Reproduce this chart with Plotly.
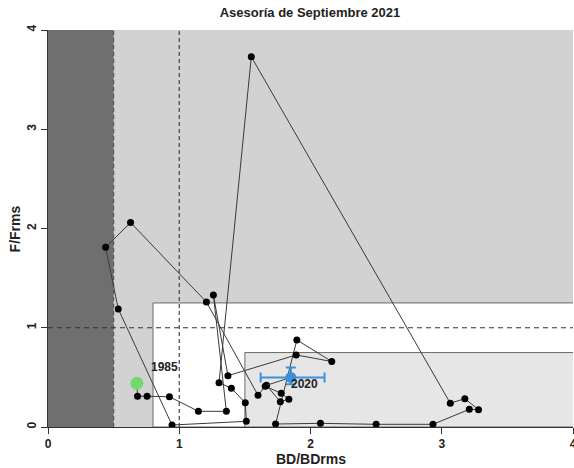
import plotly.graph_objects as go

# ---- data ----
years = list(range(1985, 2021))
bd = [0.677, 0.682, 0.755, 0.925, 1.146, 1.359, 1.260, 1.371, 1.891, 2.162,
      1.896, 1.734, 2.076, 2.500, 2.933, 3.210, 3.280, 3.176, 3.065, 1.549,
      1.303, 1.397, 1.503, 1.511, 0.945, 0.535, 0.439, 0.629, 1.207, 1.600,
      1.655, 1.777, 1.835, 1.770, 1.665, 1.850]
ff = [0.44, 0.31, 0.31, 0.305, 0.158, 0.158, 1.33, 0.517, 0.726, 0.66,
      0.877, 0.03, 0.037, 0.027, 0.027, 0.178, 0.175, 0.285, 0.24, 3.73,
      0.447, 0.39, 0.245, 0.057, 0.02, 1.19, 1.81, 2.06, 1.26, 0.32,
      0.41, 0.34, 0.28, 0.255, 0.42, 0.50]
last_bd_ci = [1.62, 2.107]
last_f_ci = [0.43, 0.60]
ticks = [0, 1, 2, 3, 4]

# reference points / zones
b_lim, b_pa, b_up = 0.5, 0.8, 1.5
f_ref, f_up, f_low = 1.0, 1.25, 0.75
xmax, ymax = 4, 4

FONT = "Liberation Sans"
fig = go.Figure()

shapes = [
    dict(type="rect", x0=0, x1=xmax, y0=0, y1=ymax, fillcolor="#d2d2d2", line_width=0, layer="below"),
    dict(type="rect", x0=0, x1=b_lim, y0=0, y1=ymax, fillcolor="#6f6f6f", line_width=0, layer="below"),
    dict(type="rect", x0=b_pa, x1=xmax + 0.05, y0=0, y1=f_up, fillcolor="white",
         line=dict(color="#6a6a6a", width=1), layer="below"),
    dict(type="rect", x0=b_up, x1=xmax + 0.05, y0=0, y1=f_low, fillcolor="#e6e6e6",
         line=dict(color="#6a6a6a", width=1), layer="below"),
    dict(type="line", x0=b_lim, x1=b_lim, y0=0, y1=ymax, line=dict(color="#555555", width=1.2, dash="4px,3px"), layer="below"),
    dict(type="line", x0=1, x1=1, y0=0, y1=ymax, line=dict(color="#444444", width=1.2, dash="4px,3px"), layer="below"),
    dict(type="line", x0=0, x1=xmax, y0=f_ref, y1=f_ref, line=dict(color="#333333", width=1.2, dash="5px,4px"), layer="below"),
]

fig.add_trace(go.Scatter(x=bd[:-1], y=ff[:-1], mode="lines+markers",
                         line=dict(color="#3a3a3a", width=1),
                         marker=dict(color="black", size=7), hoverinfo="skip"))
fig.add_trace(go.Scatter(x=bd[-2:], y=ff[-2:], mode="lines",
                         line=dict(color="#3a3a3a", width=1), hoverinfo="skip"))
fig.add_trace(go.Scatter(x=[bd[0]], y=[ff[0]], mode="markers",
                         marker=dict(color="#72d872", size=13), hoverinfo="skip"))
fig.add_trace(go.Scatter(
    x=[bd[-1]], y=[ff[-1]], mode="markers",
    marker=dict(color="#3d8fdc", size=11),
    error_x=dict(type="data", symmetric=False, array=[last_bd_ci[1] - bd[-1]],
                 arrayminus=[bd[-1] - last_bd_ci[0]], color="#3d8fdc", thickness=2, width=5),
    error_y=dict(type="data", symmetric=False, array=[last_f_ci[1] - ff[-1]],
                 arrayminus=[ff[-1] - last_f_ci[0]], color="#3d8fdc", thickness=2, width=5),
    hoverinfo="skip"))

annotations = [
    dict(x=0.89, y=0.60, xref="x", yref="y", text="<b>%d</b>" % years[0], showarrow=False,
         font=dict(family=FONT, size=12, color="#222")),
    dict(x=1.955, y=0.43, xref="x", yref="y", text="<b>%d</b>" % years[-1], showarrow=False,
         font=dict(family=FONT, size=12, color="#222")),
    dict(x=0.5, y=-0.08, xref="paper", yref="paper", text="<b>BD/BDrms</b>", showarrow=False,
         font=dict(family=FONT, size=14, color="#222"), yanchor="middle"),
    dict(x=-0.063, y=0.5, xref="paper", yref="paper", text="<b>F/Frms</b>", showarrow=False,
         textangle=-90, font=dict(family=FONT, size=14, color="#222"), xanchor="center"),
]

axis_common = dict(range=[0, 4], tickvals=ticks, ticktext=[str(t) for t in ticks],
                   showgrid=False, zeroline=False, showline=True, linecolor="#333",
                   linewidth=1, ticks="outside", ticklen=6, tickcolor="#333",
                   automargin=False, ticklabeloverflow="allow",
                   tickfont=dict(family=FONT, size=12, color="#222", weight="bold"))

fig.update_layout(
    width=574, height=468,
    margin=dict(l=48, r=1, t=30, b=41, autoexpand=False),
    paper_bgcolor="white", plot_bgcolor="white",
    showlegend=False,
    shapes=shapes, annotations=annotations,
    title=dict(text="<b>Asesoría de Septiembre 2021</b>", x=0.54, xref="container",
               y=1 - 12 / 468, yref="container", xanchor="center", yanchor="middle",
               font=dict(family=FONT, size=13, color="#222")),
    xaxis=dict(**axis_common),
    yaxis=dict(**axis_common, tickangle=-90),
)

fig.write_html("out.html", config={"displayModeBar": False},
               post_script="document.body.style.margin='0';")
